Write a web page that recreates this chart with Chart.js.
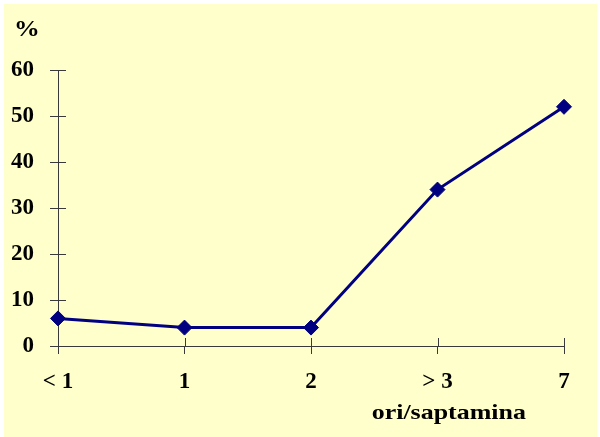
<!DOCTYPE html>
<html>
<head>
<meta charset="utf-8">
<script src="https://cdn.jsdelivr.net/npm/chart.js@4/dist/chart.umd.min.js"></script>
<style>
  html, body { margin: 0; padding: 0; background: #ffffff; }
  #wrap { width: 600px; height: 437px; }
</style>
</head>
<body>
<div id="wrap"><canvas id="c" width="600" height="437"></canvas></div>
<script>
// Weeks of exposure vs. percentage
const categories = ['< 1', '1', '2', '> 3', '7'];
const percentValues = [6, 4, 4, 34, 52];
const yTicks = [0, 10, 20, 30, 40, 50, 60];

const FONT = "'Liberation Serif', 'Times New Roman', serif";
const AXIS_COLOR = '#3a3a3a';

// Bold caption, slightly widened to match the tick lettering
function drawCaption(ctx, text, x, y, align, size, stretch) {
  ctx.save();
  ctx.font = 'bold ' + size + 'px ' + FONT;
  ctx.fillStyle = '#000000';
  ctx.textBaseline = 'middle';
  ctx.textAlign = align;
  ctx.translate(x, y);
  ctx.scale(stretch, 1);
  ctx.fillText(text, 0, 0);
  ctx.restore();
}

// Pale yellow panel behind the plot, plus the unit and axis captions
const panelPlugin = {
  id: 'panel',
  beforeDraw(chart) {
    const ctx = chart.ctx;
    ctx.save();
    ctx.fillStyle = '#ffffcc';
    ctx.fillRect(4, 4, 593, 433);
    ctx.restore();
  },
  afterDraw(chart) {
    const ctx = chart.ctx;
    const area = chart.chartArea;
    drawCaption(ctx, '%', 14, 30, 'left', 23, 1.12);
    drawCaption(ctx, 'ori/saptamina', area.right - 38, 413, 'right', 22, 1.18);
  }
};

// Tick marks that cross the axis lines: inner half drawn here
const innerTicksPlugin = {
  id: 'innerTicks',
  afterDatasetsDraw(chart) {
    const ctx = chart.ctx;
    const xs = chart.scales.x, ys = chart.scales.y;
    ctx.save();
    ctx.strokeStyle = AXIS_COLOR;
    ctx.lineWidth = 1;
    ctx.beginPath();
    ys.ticks.forEach((t, i) => {
      const py = Math.round(ys.getPixelForTick(i)) + 0.5;
      ctx.moveTo(xs.left, py);
      ctx.lineTo(xs.left + 8, py);
    });
    xs.ticks.forEach((t, i) => {
      const px = Math.round(xs.getPixelForTick(i)) + 0.5;
      ctx.moveTo(px, ys.bottom);
      ctx.lineTo(px, ys.bottom - 8);
    });
    ctx.stroke();
    ctx.restore();
  }
};

new Chart(document.getElementById('c'), {
  type: 'line',
  data: {
    labels: categories,
    datasets: [{
      data: percentValues,
      borderColor: '#000080',
      backgroundColor: '#000080',
      borderWidth: 3,
      pointStyle: 'rectRot',
      pointRadius: 7.5,
      pointHoverRadius: 7.5,
      pointBackgroundColor: '#000080',
      pointBorderColor: '#000080',
      pointBorderWidth: 1,
      tension: 0,
      fill: false,
      clip: false
    }]
  },
  options: {
    responsive: false,
    animation: false,
    events: [],
    layout: { padding: { left: 0, right: 36, top: 70, bottom: 0 } },
    plugins: {
      legend: { display: false },
      tooltip: { enabled: false },
      title: { display: false }
    },
    scales: {
      x: {
        type: 'category',
        offset: false,
        grid: {
          display: true,
          drawOnChartArea: false,
          drawTicks: true,
          tickLength: 8,
          color: AXIS_COLOR,
          lineWidth: 1
        },
        border: { display: true, color: AXIS_COLOR, width: 1 },
        ticks: {
          color: '#000000',
          font: { family: FONT, size: 23, weight: 'bold' },
          padding: 14,
          maxRotation: 0,
          autoSkip: false
        },
        afterFit(scale) { scale.height = 91; }
      },
      y: {
        min: 0,
        max: 60,
        afterBuildTicks(scale) { scale.ticks = yTicks.map(v => ({ value: v })); },
        grid: {
          display: true,
          drawOnChartArea: false,
          drawTicks: true,
          tickLength: 8,
          color: AXIS_COLOR,
          lineWidth: 1
        },
        border: { display: true, color: AXIS_COLOR, width: 1 },
        ticks: {
          color: '#000000',
          font: { family: FONT, size: 23, weight: 'bold' },
          padding: 16
        },
        afterFit(scale) { scale.width = 58; }
      }
    }
  },
  plugins: [panelPlugin, innerTicksPlugin]
});
</script>
</body>
</html>
